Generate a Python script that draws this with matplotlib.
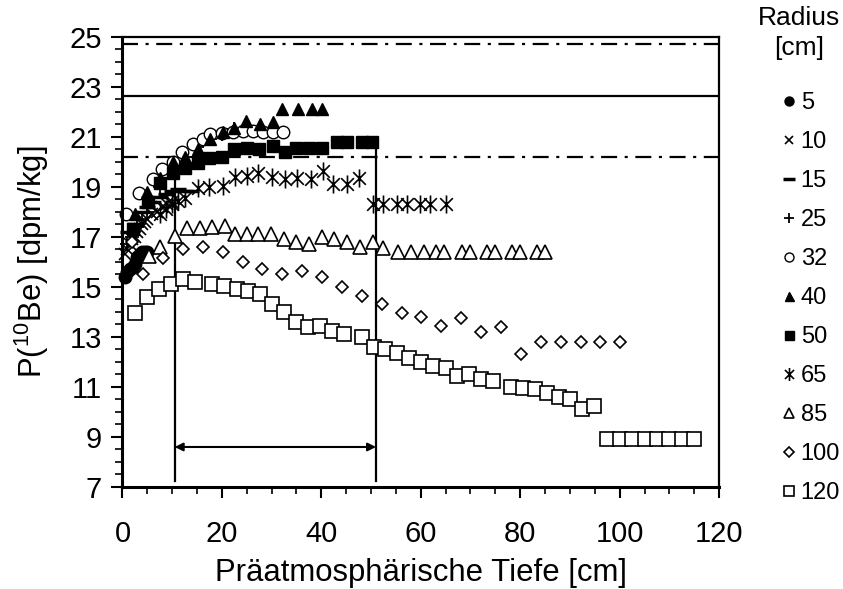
import numpy as np
import matplotlib.pyplot as plt
from matplotlib.path import Path

plt.rcParams['font.family'] = ['Liberation Sans', 'DejaVu Sans']
plt.rcParams['mathtext.fontset'] = 'custom'
plt.rcParams['mathtext.rm'] = 'Liberation Sans'

# Radius 5 cm
x5 = [0.5, 1.0, 1.5, 2.1, 2.5, 2.9, 3.5, 4.0, 4.5, 4.9]
y5 = [15.4, 15.6, 15.7, 15.8, 15.9, 16.2, 16.3, 16.4, 16.4, 16.4]
# Radius 10 cm
x10 = [0.5, 1.0, 1.5, 2.0, 2.5, 3.0, 3.5, 4.0, 4.5, 5.0, 6.0, 7.0, 8.0, 9.0, 10.0]
y10 = [16.3, 16.5, 16.7, 16.9, 17.0, 17.2, 17.3, 17.5, 17.6, 17.7, 17.9, 18.0, 18.2, 18.3, 18.4]
# Radius 15 cm
x15 = [1.2, 2.5, 3.9, 5.0, 6.2, 7.5, 8.7, 10.0, 11.2, 12.5, 13.7]
y15 = [17.2, 17.5, 18.0, 18.2, 18.4, 18.6, 18.7, 18.85, 18.9, 18.85, 18.85]
# Radius 25 cm
x25 = [1.0, 2.0, 3.0, 4.0, 5.0, 7.5, 10.1, 12.5, 15.0, 17.6, 20.0, 22.5, 25.0]
y25 = [16.7, 17.0, 17.4, 17.7, 18.0, 19.0, 19.8, 20.2, 20.6, 20.9, 21.1, 21.3, 21.4]
# Radius 32 cm
x32 = [0.8, 3.4, 6.1, 7.9, 10.1, 11.9, 14.1, 16.1, 17.6, 20.0, 22.3, 24.3, 26.3, 28.2, 30.2, 32.2]
y32 = [17.9, 18.75, 19.3, 19.7, 20.0, 20.4, 20.7, 20.9, 21.1, 21.15, 21.2, 21.25, 21.25, 21.2, 21.2, 21.2]
# Radius 40 cm
x40 = [2.5, 5.0, 7.5, 10.1, 12.6, 15.1, 17.6, 20.2, 22.4, 24.8, 27.7, 30.2, 32.0, 35.4, 38.1, 40.1]
y40 = [17.9, 18.8, 19.35, 20.0, 20.2, 20.5, 20.9, 21.2, 21.35, 21.65, 21.5, 21.6, 22.1, 22.1, 22.1, 22.1]
# Radius 50 cm
x50 = [2.2, 5.2, 7.5, 10.1, 12.6, 15.1, 17.5, 20.0, 22.4, 25.0, 27.5, 30.2, 32.6, 35.0, 37.6,
       40.1, 43.1, 45.1, 48.1, 50.1]
y50 = [17.3, 18.4, 19.15, 19.55, 19.75, 19.95, 20.15, 20.2, 20.5, 20.55, 20.5, 20.65, 20.4, 20.55, 20.55,
       20.55, 20.8, 20.8, 20.8, 20.8]
# Radius 65 cm
x65 = [7.5, 8.7, 10.0, 11.2, 12.6, 15.1, 17.5, 20.2, 22.6, 25.0, 27.3, 30.0, 32.7, 35.2, 37.9,
       40.4, 42.4, 45.1, 47.6, 50.3, 52.3, 55.2, 57.2, 59.9, 61.9, 65.0]
y65 = [17.9, 18.1, 18.3, 18.45, 18.55, 18.95, 19.0, 19.05, 19.4, 19.45, 19.55, 19.4, 19.3, 19.35, 19.3,
       19.65, 19.1, 19.1, 19.35, 18.3, 18.3, 18.3, 18.3, 18.3, 18.3, 18.3]
# Radius 85 cm
x85 = [5.4, 7.5, 10.6, 12.9, 15.5, 18.1, 20.6, 22.6, 25.0, 27.3, 29.9, 32.4, 35.0, 37.6, 40.1,
       42.6, 45.1, 47.8, 50.3, 52.5, 55.5, 58.0, 60.7, 63.1, 64.7, 68.2, 69.9, 73.3, 75.0,
       78.3, 80.0, 83.3, 85.0]
y85 = [16.25, 16.6, 17.05, 17.35, 17.35, 17.4, 17.45, 17.1, 17.1, 17.1, 17.1, 16.9, 16.8, 16.7, 17.0,
       16.9, 16.8, 16.6, 16.8, 16.55, 16.4, 16.4, 16.4, 16.4, 16.4, 16.4, 16.4, 16.4, 16.4,
       16.4, 16.4, 16.4, 16.4]
# Radius 100 cm
x100 = [2.0, 4.2, 8.2, 12.1, 16.1, 20.2, 24.2, 28.1, 32.1, 36.1, 40.1, 44.2, 48.1, 52.2, 56.2,
        60.1, 64.1, 68.1, 72.1, 76.2, 80.2, 84.1, 88.2, 92.2, 96.1, 100.1]
y100 = [16.8, 15.5, 16.15, 16.5, 16.6, 16.4, 16.0, 15.7, 15.5, 15.65, 15.4, 15.0, 14.65, 14.3, 13.95,
        13.8, 13.45, 13.75, 13.2, 13.4, 12.3, 12.8, 12.8, 12.8, 12.8, 12.8]
# Radius 120 cm
x120 = [2.5, 4.9, 7.3, 9.7, 12.1, 14.5, 18.1, 20.5, 23.0, 25.3, 27.7, 30.1, 32.4, 34.9, 37.3,
        39.7, 42.2, 44.6, 48.1, 50.5, 52.9, 55.3, 57.7, 60.1, 62.5, 65.0, 67.2, 69.7, 72.1, 74.5,
        78.2, 80.5, 82.9, 85.3, 87.8, 90.1, 92.5, 94.9, 97.5, 100.0, 102.5, 105.0, 107.5, 110.0,
        112.5, 115.0]
y120 = [13.95, 14.6, 14.9, 15.1, 15.3, 15.2, 15.1, 15.05, 14.9, 14.85, 14.7, 14.3, 14.0, 13.6, 13.4,
        13.45, 13.25, 13.1, 13.0, 12.6, 12.5, 12.35, 12.15, 12.0, 11.85, 11.75, 11.45, 11.5, 11.3, 11.25,
        11.0, 10.95, 10.9, 10.75, 10.6, 10.5, 10.1, 10.25, 8.9, 8.9, 8.9, 8.9, 8.9, 8.9,
        8.9, 8.9]

# reference levels and depth window
level_mid = 22.65
level_band = [24.7, 20.2]
window = [10.5, 51.0]
window_top = [20.2, 20.8]
arrow_y = 8.6

star = Path([(0, -1), (0, 1), (-0.7, -0.7), (0.7, 0.7), (-0.7, 0.7), (0.7, -0.7)],
            [Path.MOVETO, Path.LINETO, Path.MOVETO, Path.LINETO, Path.MOVETO, Path.LINETO])

fig = plt.figure(figsize=(8.43, 5.89), dpi=100)
ax = fig.add_axes([0.1453, 0.1732, 0.7077, 0.764])

# reference lines
dashdot = (0, (7.2, 3.4, 1.4, 3.4))
ax.axhline(level_mid, color='black', lw=1.6, zorder=1)
for lv in level_band:
    ax.axhline(lv, color='black', lw=1.6, linestyle=dashdot, zorder=1)
for xv, top in zip(window, window_top):
    ax.plot([xv, xv], [7.25, top], color='black', lw=1.6, zorder=1)
ax.annotate('', xy=(window[1], arrow_y), xytext=(window[0], arrow_y),
            arrowprops=dict(arrowstyle='<|-|>', lw=1.5, color='black',
                            mutation_scale=12, shrinkA=0, shrinkB=0))

kw = dict(linestyle='none', color='black', clip_on=False)
ax.plot(x5, y5, marker='o', markersize=9, label='5', **kw)
ax.plot(x10, y10, marker='x', markersize=8, mew=1.2, label='10', **kw)
ax.plot(x15, y15, marker='_', markersize=12, mew=2.5, label='15', **kw)
ax.plot(x25, y25, marker='+', markersize=10, mew=1.3, label='25', **kw)
ax.plot(x32, y32, marker='o', markersize=9, mfc='white', mew=1.0, label='32', **kw)
ax.plot(x40, y40, marker='^', markersize=9, label='40', **kw)
ax.plot(x50, y50, marker='s', markersize=9, label='50', **kw)
ax.plot(x65, y65, marker=star, markersize=13, mew=1.2, label='65', **kw)
ax.plot(x85, y85, marker='^', markersize=10, mfc='white', mew=1.2, label='85', **kw)
ax.plot(x100, y100, marker='D', markersize=6.5, mfc='white', mew=1.2, label='100', **kw)
ax.plot(x120, y120, marker='s', markersize=10, mfc='white', mew=1.2, label='120', **kw)

ax.set_xlim(0, 120)
ax.set_ylim(7, 25)
ax.set_xticks(np.arange(0, 121, 20))
ax.set_xticks(np.arange(0, 121, 5), minor=True)
ax.set_yticks(np.arange(7, 26, 2))
ax.set_yticks(np.arange(7, 25.1, 0.5), minor=True)
ax.tick_params(which='major', direction='out', length=8, width=1.5, labelsize=21)
ax.tick_params(which='minor', direction='out', length=5, width=1.2)
ax.tick_params(axis='x', which='major', pad=16)
ax.tick_params(axis='y', which='major', pad=7)
for s in ['left', 'bottom']:
    ax.spines[s].set_linewidth(2.2)
for s in ['top', 'right']:
    ax.spines[s].set_linewidth(1.6)

ax.set_xlabel('Präatmosphärische Tiefe [cm]', fontsize=22.4, labelpad=7)
ax.set_ylabel(r'P($\mathregular{^{10}}$Be) [dpm/kg]', fontsize=22.4, labelpad=13)

fig.text(799 / 843, 1 - 6 / 589, 'Radius\n[cm]', ha='center', va='top', fontsize=19,
         linespacing=1.3)
ax.legend(loc='upper left', bbox_to_anchor=(783 / 843, 1 - 92 / 589), bbox_transform=fig.transFigure,
          frameon=False, fontsize=17, markerscale=0.72, handlelength=0.55, handletextpad=0.2,
          labelspacing=0.72, borderaxespad=0, borderpad=0)

fig.savefig('out.png', dpi=100)
